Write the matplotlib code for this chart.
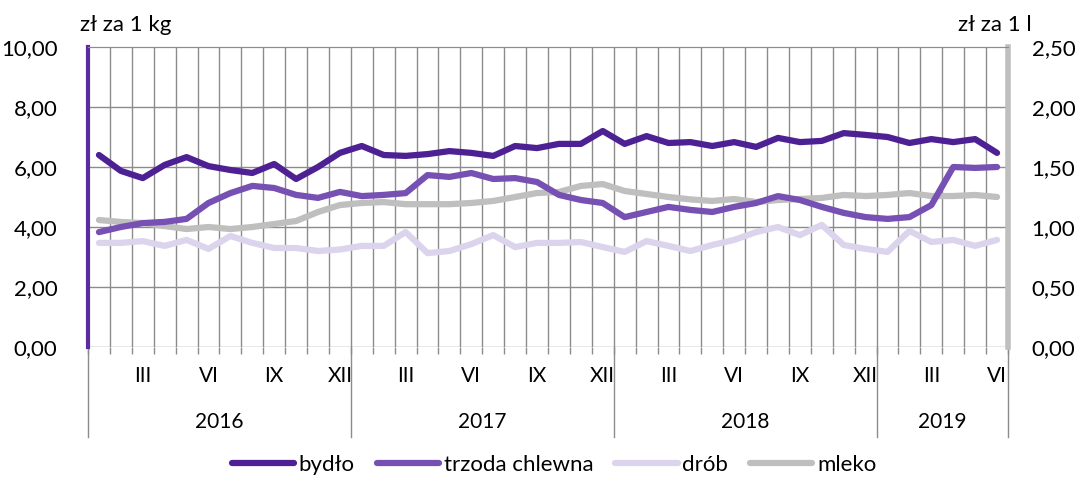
import matplotlib.pyplot as plt
import matplotlib.transforms as mtransforms
from matplotlib.lines import Line2D
import numpy as np

plt.rcParams['font.family'] = ['Lato', 'DejaVu Sans']

# monthly prices, I 2016 - VI 2019
bydlo = [6.40, 5.87, 5.63, 6.07, 6.33, 6.03, 5.90, 5.80, 6.10, 5.60, 6.00, 6.47,
         6.70, 6.40, 6.37, 6.43, 6.53, 6.47, 6.37, 6.70, 6.63, 6.77, 6.77, 7.20,
         6.77, 7.03, 6.80, 6.83, 6.70, 6.83, 6.67, 6.97, 6.83, 6.87, 7.13, 7.07,
         7.00, 6.80, 6.93, 6.83, 6.93, 6.47]
trzoda = [3.83, 4.00, 4.13, 4.17, 4.27, 4.80, 5.13, 5.37, 5.30, 5.07, 4.97, 5.17,
          5.03, 5.07, 5.13, 5.73, 5.67, 5.80, 5.60, 5.63, 5.50, 5.07, 4.90, 4.80,
          4.33, 4.50, 4.67, 4.57, 4.50, 4.67, 4.80, 5.03, 4.90, 4.67, 4.47, 4.33,
          4.27, 4.33, 4.73, 6.00, 5.97, 6.00]
drob = [3.47, 3.47, 3.53, 3.37, 3.57, 3.27, 3.70, 3.47, 3.30, 3.30, 3.20, 3.25,
        3.37, 3.37, 3.83, 3.13, 3.20, 3.43, 3.73, 3.33, 3.47, 3.47, 3.50, 3.33,
        3.17, 3.53, 3.37, 3.20, 3.40, 3.57, 3.83, 4.00, 3.73, 4.07, 3.40, 3.27,
        3.17, 3.87, 3.50, 3.57, 3.37, 3.57]
mleko = [1.058, 1.042, 1.033, 1.008, 0.983, 1.000, 0.983, 1.000, 1.025, 1.050, 1.125, 1.183,
         1.200, 1.208, 1.190, 1.190, 1.190, 1.200, 1.217, 1.250, 1.283, 1.292, 1.342, 1.358,
         1.300, 1.275, 1.250, 1.230, 1.217, 1.233, 1.208, 1.225, 1.233, 1.242, 1.267, 1.258,
         1.267, 1.283, 1.258, 1.258, 1.267, 1.250]
years = ['2016', '2017', '2018', '2019']
month_labels = ['III', 'VI', 'IX', 'XII']

n = len(bydlo)
x = np.arange(n)

fig = plt.figure(figsize=(10.78, 4.78), dpi=100)
ax = fig.add_axes([88/1078, 1-347/478, 920/1078, 300/478])
ax2 = ax.twinx()

ax.set_xlim(-0.5, n-0.5)
ax.set_ylim(0, 10)
ax2.set_ylim(0, 2.5)

# grid
grid_c = '#8c8c8c'
for b in np.arange(-0.5, n, 1.0):
    ax.axvline(b, color=grid_c, lw=1, zorder=0)
for v in [2, 4, 6, 8]:
    ax.axhline(v, color=grid_c, lw=1, zorder=0)

c_bydlo = '#4d2193'
c_trzoda = '#7650b2'
c_drob = '#dcd3ec'
c_mleko = '#bfbfbf'
lw = 4.5

ax2.plot(x, mleko, color=c_mleko, lw=lw, solid_capstyle='round', zorder=2)
ax2.plot(x, drob, color=c_drob, lw=lw, solid_capstyle='round', zorder=3, transform=ax.transData)
ax2.plot(x, trzoda, color=c_trzoda, lw=lw, solid_capstyle='round', zorder=4, transform=ax.transData)
ax2.plot(x, bydlo, color=c_bydlo, lw=lw, solid_capstyle='round', zorder=5, transform=ax.transData)

# spines
for a in (ax, ax2):
    a.spines['bottom'].set_visible(False)
ax.spines['top'].set_color(grid_c)
ax2.spines['top'].set_color(grid_c)
ax2.spines['left'].set_color('#5a2ca0')
ax2.spines['left'].set_linewidth(3)
ax2.spines['right'].set_color(c_mleko)
ax2.spines['right'].set_linewidth(4)
ax.spines['left'].set_visible(False)
ax.spines['right'].set_visible(False)
ax.axhline(0, color=grid_c, lw=1, zorder=1)

# y ticks
ax.set_yticks([0, 2, 4, 6, 8, 10])
ax.set_yticklabels(['0,00', '2,00', '4,00', '6,00', '8,00', '10,00'], fontsize=16)
ax2.set_yticks([0, 0.5, 1.0, 1.5, 2.0, 2.5])
ax2.set_yticklabels(['0,00', '0,50', '1,00', '1,50', '2,00', '2,50'], fontsize=16)
ax.tick_params(axis='y', length=0, pad=22)
ax2.tick_params(axis='y', length=0, pad=17)

# x ticks: months
ax.set_xticks([2, 5, 8, 11, 14, 17, 20, 23, 26, 29, 32, 35, 38, 41])
ax.set_xticklabels(month_labels * 3 + month_labels[:2], fontsize=15)
ax.tick_params(axis='x', length=0, pad=14)
ax.set_xticks(np.arange(-0.5, n, 1.0), minor=True)
ax.tick_params(axis='x', which='minor', length=5, color=grid_c, width=1)

# year separators and labels
trans = mtransforms.blended_transform_factory(ax.transData, ax.transAxes)
for b in [-0.5, 11.5, 23.5, 35.5, n-0.5]:
    ax.plot([b, b], [0, -0.3], color=grid_c, lw=1, transform=trans, clip_on=False)
for i, yr in enumerate(years):
    start = i*12 - 0.5
    end = min(start + 12, n - 0.5)
    ax.text((start+end)/2, -0.25, yr, transform=trans, ha='center', va='center', fontsize=15)

fig.text(80/1078, 1-25/478, 'zł za 1 kg', fontsize=16, ha='left', va='center')
fig.text(1032/1078, 1-25/478, 'zł za 1 l', fontsize=16, ha='right', va='center')

# legend
handles = [Line2D([], [], color=c, lw=4.5, solid_capstyle='round') for c in (c_bydlo, c_trzoda, c_drob, c_mleko)]
fig.legend(handles, ['bydło', 'trzoda chlewna', 'drób', 'mleko'], loc='center',
           bbox_to_anchor=(0.514, 1-465/478), ncol=4, frameon=False, fontsize=16,
           handlelength=2.8, handletextpad=0.2, columnspacing=1.0)

fig.savefig('out.png', dpi=100)
